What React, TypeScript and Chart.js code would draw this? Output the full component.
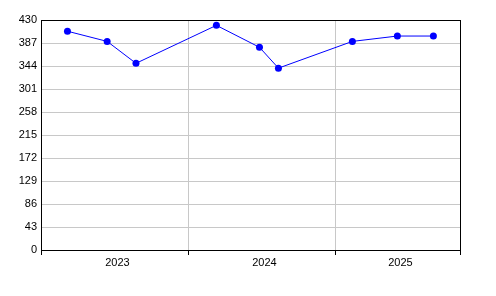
import React, { useEffect, useRef } from "react";
import { Chart, registerables } from "chart.js";

Chart.register(...registerables);

// Fractional-year positions of each observation
const periods = [2023.18, 2023.45, 2023.646, 2024.193, 2024.486, 2024.615, 2025.118, 2025.424, 2025.669];
const values = [409, 390, 349, 420, 379, 340, 390, 400, 400];

const yearLabels = ["2023", "2024", "2025"];
const yearLabelPos = [2023.52, 2024.52, 2025.445];
const yearBounds = [2023, 2024, 2025];
const xMin = 2023;
const xMax = 2025.85;
const yMin = 0;
const yMax = 430;
const yStep = 43;

export default function App() {
  const ref = useRef<HTMLCanvasElement | null>(null);

  useEffect(() => {
    if (!ref.current) return;
    const isBound = (v: number) => yearBounds.includes(v) || Math.abs(v - xMax) < 1e-9;
    const chart = new Chart(ref.current, {
      type: "line",
      data: {
        datasets: [
          {
            data: periods.map((p, i) => ({ x: p, y: values[i] })),
            borderColor: "#0000ff",
            backgroundColor: "#0000ff",
            borderWidth: 1,
            pointRadius: 3.5,
            pointBorderWidth: 0,
            pointBackgroundColor: "#0000ff",
            tension: 0,
          },
        ],
      },
      options: {
        animation: false,
        responsive: false,
        layout: { padding: { top: 20, right: 36, left: 0, bottom: 0 } },
        plugins: { legend: { display: false }, tooltip: { enabled: false } },
        scales: {
          x: {
            type: "linear",
            min: xMin,
            max: xMax,
            afterBuildTicks: (scale: any) => {
              const vals = [...yearBounds, ...yearLabelPos, xMax].sort((a, b) => a - b);
              scale.ticks = vals.map((v) => ({ value: v }));
            },
            afterFit: (scale: any) => {
              scale.height = 46;
            },
            ticks: {
              autoSkip: false,
              maxRotation: 0,
              padding: 1,
              color: "#000000",
              font: { family: "'Liberation Sans', Arial, sans-serif", size: 11 },
              callback: (v: any) => {
                const i = yearLabelPos.findIndex((p) => Math.abs(p - Number(v)) < 1e-9);
                return i >= 0 ? yearLabels[i] : "";
              },
            },
            grid: {
              color: (ctx: any) => {
                const v = ctx.tick ? ctx.tick.value : NaN;
                if (Math.abs(v - xMax) < 1e-9) return "#000000";
                if (v === 2024 || v === 2025) return "#c8c8c8";
                return "rgba(0,0,0,0)";
              },
              tickColor: (ctx: any) => {
                const v = ctx.tick ? ctx.tick.value : NaN;
                return isBound(v) ? "#000000" : "rgba(0,0,0,0)";
              },
              tickLength: 5,
              lineWidth: 1,
            },
            border: { color: "#000000", width: 1 },
          },
          y: {
            min: yMin,
            max: yMax,
            afterBuildTicks: (scale: any) => {
              const t = [];
              for (let v = yMin; v <= yMax; v += yStep) t.push({ value: v });
              scale.ticks = t;
            },
            afterFit: (scale: any) => {
              scale.width = 41;
            },
            ticks: {
              padding: 4,
              color: "#000000",
              font: { family: "'Liberation Sans', Arial, sans-serif", size: 11 },
            },
            grid: {
              drawTicks: false,
              color: (ctx: any) => {
                const v = ctx.tick ? ctx.tick.value : NaN;
                if (v === yMax) return "#000000";
                return "#c8c8c8";
              },
              lineWidth: 1,
            },
            border: { color: "#000000", width: 1 },
          },
        },
      },
    });
    return () => chart.destroy();
  }, []);

  return (
    <div style={{ position: "fixed", left: 0, top: 0, width: 496, height: 296, background: "#ffffff" }}>
      <canvas ref={ref} width={496} height={296} style={{ width: 496, height: 296 }} />
    </div>
  );
}
